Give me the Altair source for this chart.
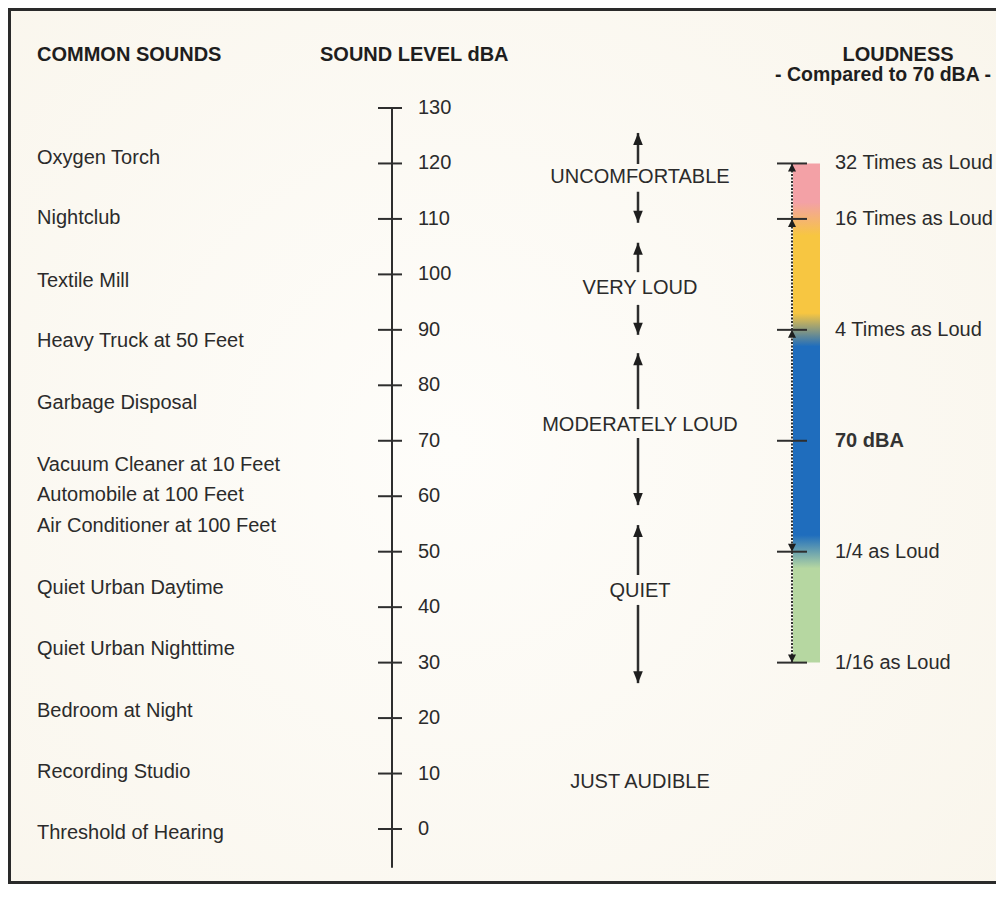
import altair as alt
import pandas as pd

# ---------------- data ----------------
sound_labels = [
    "Oxygen Torch", "Nightclub", "Textile Mill", "Heavy Truck at 50 Feet",
    "Garbage Disposal", "Vacuum Cleaner at 10 Feet", "Automobile at 100 Feet",
    "Air Conditioner at 100 Feet", "Quiet Urban Daytime", "Quiet Urban Nighttime",
    "Bedroom at Night", "Recording Studio", "Threshold of Hearing",
]
sound_levels = [121.0, 110.2, 98.8, 88.0, 76.8, 65.6, 60.2, 54.6, 43.5, 32.5, 21.3, 10.3, -0.7]

tick_values = [0, 10, 20, 30, 40, 50, 60, 70, 80, 90, 100, 110, 120, 130]
axis_top = [130]
axis_bottom = [-7]

category_labels = ["UNCOMFORTABLE", "VERY LOUD", "MODERATELY LOUD", "QUIET", "JUST AUDIBLE"]
category_levels = [117.6, 97.5, 72.8, 42.9, 8.5]
arrow_up_from = [119.9, 100.4, 75.7, 45.8]
arrow_up_to = [125.5, 105.7, 85.8, 54.8]
arrow_down_from = [114.9, 94.5, 70.5, 40.4]
arrow_down_to = [109.3, 89.1, 58.4, 26.3]

loud_levels = [120, 110, 90, 70, 50, 30]
loud_labels = ["32 Times as Loud", "16 Times as Loud", "4 Times as Loud",
               "70 dBA", "1/4 as Loud", "1/16 as Loud"]
loud_arrows = ["up", "up", "up", "", "down", "down"]

band_tops = [120, 110, 90, 50]
band_bottoms = [110, 90, 50, 30]
band_colors = ["#f3a1a6", "#f7c641", "#1f6dbd", "#b6d7a1"]

header_texts = ["COMMON SOUNDS", "SOUND LEVEL dBA", "LOUDNESS", "- Compared to 70 dBA -"]

# ---------------- layout ----------------
W, H = 988, 876
PX_PER_DB = 721 / 130
TOP_DB = (829 - 8) / PX_PER_DB
BOT_DB = (829 - (8 + H)) / PX_PER_DB
yscale = alt.Scale(domain=[BOT_DB, TOP_DB], nice=False, zero=False)
FONT = "Liberation Sans"
TXT = "#2b2b2b"
LINE = "#2e2e2e"
FS = 20


def Y(field):
    return alt.Y(f"{field}:Q", scale=yscale, axis=None)


one = pd.DataFrame({"a": [0]})

# background
bg = alt.Chart(one).mark_rect(
    color=alt.Gradient(
        gradient="radial",
        stops=[alt.GradientStop(color="#fefdfa", offset=0),
               alt.GradientStop(color="#f9f5eb", offset=1)],
        x1=0.45, y1=0.5, r1=0, x2=0.45, y2=0.5, r2=0.75,
    )
).encode(x=alt.value(0), x2=alt.value(W), y=alt.value(0), y2=alt.value(H))

border_left = alt.Chart(one).mark_rule(color="#2a2a2a", strokeWidth=3).encode(
    x=alt.value(1.5), y=alt.value(0), y2=alt.value(H))
border_top = alt.Chart(one).mark_rule(color="#2a2a2a", strokeWidth=3).encode(
    x=alt.value(0), x2=alt.value(W), y=alt.value(1.5))
border_bottom = alt.Chart(one).mark_rule(color="#2a2a2a", strokeWidth=3).encode(
    x=alt.value(0), x2=alt.value(W), y=alt.value(H - 1.5))


def header(text, x, y, align, size=FS):
    return alt.Chart(pd.DataFrame({"t": [text]})).mark_text(
        font=FONT, fontSize=size, fontWeight="bold", color="#1e1e1e",
        align=align, baseline="middle"
    ).encode(x=alt.value(x), y=alt.value(y), text="t:N")


headers = [
    header(header_texts[0], 29, 47, "left"),
    header(header_texts[1], 312, 47, "left"),
    header(header_texts[2], 890, 47, "center"),
    header(header_texts[3], 875, 67, "center", 19.5),
]

sounds_df = pd.DataFrame({"label": sound_labels, "db": sound_levels})
sounds = alt.Chart(sounds_df).mark_text(
    font=FONT, fontSize=FS, color=TXT, align="left", baseline="middle"
).encode(x=alt.value(29), y=Y("db"), text="label:N")

axis_df = pd.DataFrame({"top": axis_top, "bottom": axis_bottom})
axis_line = alt.Chart(axis_df).mark_rule(color=LINE, strokeWidth=2).encode(
    x=alt.value(384), y=Y("top"), y2="bottom:Q")

ticks_df = pd.DataFrame({"db": tick_values, "label": [str(v) for v in tick_values]})
ticks = alt.Chart(ticks_df).mark_rule(color=LINE, strokeWidth=2).encode(
    x=alt.value(370), x2=alt.value(394), y=Y("db"))
tick_labels = alt.Chart(ticks_df).mark_text(
    font=FONT, fontSize=FS, color=TXT, align="left", baseline="middle"
).encode(x=alt.value(410), y=Y("db"), text="label:N")

cat_df = pd.DataFrame({"label": category_labels, "db": category_levels})
cats = alt.Chart(cat_df).mark_text(
    font=FONT, fontSize=FS, color=TXT, align="center", baseline="middle"
).encode(x=alt.value(632), y=Y("db"), text="label:N")

up_df = pd.DataFrame({"from": arrow_up_from, "to": arrow_up_to})
down_df = pd.DataFrame({"from": arrow_down_from, "to": arrow_down_to})
up_shaft = alt.Chart(up_df).mark_rule(color=LINE, strokeWidth=2.5).encode(
    x=alt.value(630), y=Y("from"), y2="to:Q")
down_shaft = alt.Chart(down_df).mark_rule(color=LINE, strokeWidth=2.5).encode(
    x=alt.value(630), y=Y("from"), y2="to:Q")
UP_HEAD = "M0,0L-0.4,1L0.4,1Z"
DOWN_HEAD = "M0,0L-0.4,-1L0.4,-1Z"
up_head = alt.Chart(up_df).mark_point(
    shape=UP_HEAD, filled=True, size=576, color="#1e1e1e", opacity=1, strokeWidth=0
).encode(x=alt.value(630), y=Y("to"))
down_head = alt.Chart(down_df).mark_point(
    shape=DOWN_HEAD, filled=True, size=576, color="#1e1e1e", opacity=1, strokeWidth=0
).encode(x=alt.value(630), y=Y("to"))

# loudness bar
span = loud_levels[0] - loud_levels[-1]
blend = 3.0
stops = []
for top, bot, col in zip(band_tops, band_bottoms, band_colors):
    o1 = (loud_levels[0] - top) / span + (0 if top == loud_levels[0] else blend / span)
    o2 = (loud_levels[0] - bot) / span - (0 if bot == loud_levels[-1] else blend / span)
    stops.append(alt.GradientStop(color=col, offset=o1))
    stops.append(alt.GradientStop(color=col, offset=o2))

bar_df = pd.DataFrame({"top": [loud_levels[0]], "bottom": [loud_levels[-1]]})
bar = alt.Chart(bar_df).mark_rect(
    color=alt.Gradient(gradient="linear", stops=stops, x1=0, y1=0, x2=0, y2=1)
).encode(x=alt.value(785), x2=alt.value(812), y=Y("top"), y2="bottom:Q")
dotted = alt.Chart(bar_df).mark_rule(color="#333333", strokeWidth=2, strokeDash=[2, 1.5]).encode(
    x=alt.value(784), y=Y("top"), y2="bottom:Q")

loud_df = pd.DataFrame({"db": loud_levels, "label": loud_labels, "arrow": loud_arrows})
loud_ticks = alt.Chart(loud_df).mark_rule(color=LINE, strokeWidth=2).encode(
    x=alt.value(769), x2=alt.value(799), y=Y("db"))
R_UP = "M0,0L-0.5,1L0.5,1Z"
R_DOWN = "M0,0L-0.5,-1L0.5,-1Z"
loud_up = alt.Chart(loud_df).transform_filter(alt.datum.arrow == "up").mark_point(
    shape=R_UP, filled=True, size=256, color="#1e1e1e", opacity=1, strokeWidth=0
).encode(x=alt.value(784), y=Y("db"))
loud_down = alt.Chart(loud_df).transform_filter(alt.datum.arrow == "down").mark_point(
    shape=R_DOWN, filled=True, size=256, color="#1e1e1e", opacity=1, strokeWidth=0
).encode(x=alt.value(784), y=Y("db"))
loud_text = alt.Chart(loud_df).transform_filter(alt.datum.label != "70 dBA").mark_text(
    font=FONT, fontSize=FS, color=TXT, align="left", baseline="middle"
).encode(x=alt.value(827), y=Y("db"), text="label:N")
loud_text_bold = alt.Chart(loud_df).transform_filter(alt.datum.label == "70 dBA").mark_text(
    font=FONT, fontSize=FS, fontWeight="bold", color="#333333", align="left", baseline="middle"
).encode(x=alt.value(827), y=Y("db"), text="label:N")

chart = alt.layer(
    bg, border_left, border_top, border_bottom, *headers,
    sounds, axis_line, ticks, tick_labels,
    up_shaft, down_shaft, up_head, down_head, cats,
    bar, dotted, loud_ticks, loud_up, loud_down, loud_text, loud_text_bold,
).properties(
    width=W, height=H, padding=0, background="white",
    autosize=alt.AutoSizeParams(type="none"),
).configure_view(stroke="transparent")

chart.save("out.html", embed_options={"renderer": "svg", "actions": False})
